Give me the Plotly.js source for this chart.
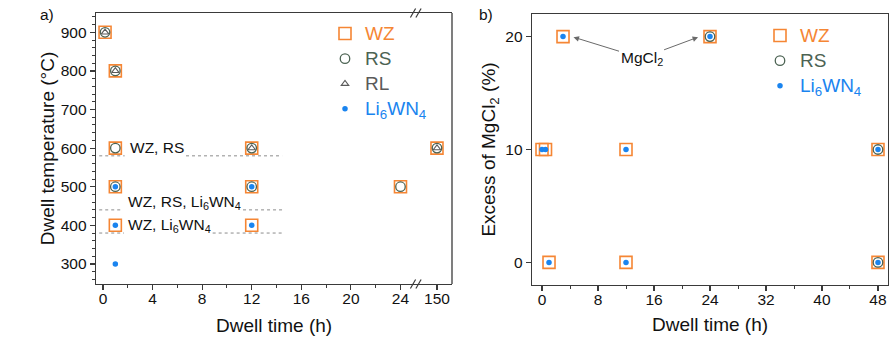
<!DOCTYPE html>
<html>
<head>
<meta charset="utf-8">
<script src="https://cdn.plot.ly/plotly-3.0.1.min.js"></script>
<style>
  html, body { margin: 0; padding: 0; background: #ffffff; }
  #chart { width: 896px; height: 362px; }
</style>
</head>
<body>
<div id="chart"></div>
<script>
// ---- a) dwell temperature vs dwell time ----
const wzTimeA = [0.17, 1, 1, 12, 150, 1, 12, 24, 1, 12];
const wzTempA = [900, 800, 600, 600, 600, 500, 500, 500, 400, 400];
const rsTimeA = [0.17, 1, 1, 12, 150, 1, 12, 24];
const rsTempA = [900, 800, 600, 600, 600, 500, 500, 500];
const rlTimeA = [0.17, 1, 12, 150];
const rlTempA = [900, 800, 600, 600];
const liTimeA = [1, 12, 1, 12, 1];
const liTempA = [500, 500, 400, 400, 300];

// ---- b) MgCl2 excess vs dwell time ----
const wzTimeB = [0, 0.5, 12, 48, 3, 24, 1, 12, 48];
const wzExcessB = [10, 10, 10, 10, 20, 20, 0, 0, 0];
const rsTimeB = [48, 24, 48];
const rsExcessB = [10, 20, 0];
const liTimeB = [0, 0.5, 12, 48, 3, 24, 1, 12, 48];
const liExcessB = [10, 10, 10, 10, 20, 20, 0, 0, 0];

// tick values / labels
const tempTicksA = [300, 400, 500, 600, 700, 800, 900];
const timeTicksA = [0, 4, 8, 12, 16, 20, 24];
const longTimeTicksA = [150];
const timeTicksB = [0, 8, 16, 24, 32, 40, 48];
const excessTicksB = [0, 10, 20];

// hours beyond this value sit on the segment after the axis break
const BREAK_AFTER = 100;

const W = 896, H = 362;
const PX = x => x / W;
const PY = y => 1 - y / H;

const FONT = 'Arial, "Liberation Sans", sans-serif';
const C_WZ = '#F58634';
const C_RS = '#4C6353';
const C_RL = '#5a5a5a';
const C_LI = '#1a84ef';
const AXIS = '#3a3a3a';

const styles = {
  WZ: {symbol: 'square-open', size: 12, color: C_WZ, width: 1.6},
  RS: {symbol: 'circle-open', size: 9.5, color: C_RS, width: 1.3},
  RL: {symbol: 'triangle-up-open', size: 6.5, color: C_RL, width: 1.1},
  LI: {symbol: 'circle', size: 5.5, color: C_LI, width: 0}
};
// legend rows are spaced by the legend font size; the label itself is drawn a bit larger
const LEG_TXT = 19;
function legName(color, label) {
  return '<span style="color:' + color + ';font-size:' + LEG_TXT + 'px">' + label + '</span>';
}
const names = {
  WZ: legName(C_WZ, 'WZ'),
  RS: legName(C_RS, 'RS'),
  RL: legName(C_RL, 'RL'),
  LI: legName(C_LI, 'Li<sub>6</sub>WN<sub>4</sub>')
};

function marker(key) {
  const s = styles[key];
  return {symbol: s.symbol, size: s.size, color: s.color,
          line: {color: s.color, width: s.width}};
}

function tracesA(key, xs, ys) {
  const near = {x: [], y: []}, far = {x: [], y: []};
  xs.forEach((t, i) => {
    const tgt = t > BREAK_AFTER ? far : near;
    tgt.x.push(t); tgt.y.push(ys[i]);
  });
  return [
    {type: 'scatter', mode: 'markers', x: near.x, y: near.y, xaxis: 'x', yaxis: 'y',
     name: names[key], legend: 'legend', showlegend: true, marker: marker(key),
     hoverinfo: 'x+y'},
    {type: 'scatter', mode: 'markers', x: far.x, y: far.y, xaxis: 'x2', yaxis: 'y',
     name: names[key], legend: 'legend', showlegend: false, marker: marker(key),
     hoverinfo: 'x+y'}
  ];
}

function traceB(key, xs, ys) {
  return {type: 'scatter', mode: 'markers', x: xs, y: ys, xaxis: 'x3', yaxis: 'y2',
          name: names[key], legend: 'legend2', showlegend: true, marker: marker(key),
          hoverinfo: 'x+y'};
}

const data = [].concat(
  tracesA('WZ', wzTimeA, wzTempA),
  tracesA('RS', rsTimeA, rsTempA),
  tracesA('RL', rlTimeA, rlTempA),
  tracesA('LI', liTimeA, liTempA),
  [traceB('WZ', wzTimeB, wzExcessB),
   traceB('RS', rsTimeB, rsExcessB),
   traceB('LI', liTimeB, liExcessB)]
);

const tickFont = {family: FONT, size: 15.5, color: '#111'};
const titleFont = {family: FONT, size: 19, color: '#111'};

function axisBase(extra) {
  return Object.assign({
    showline: true, linecolor: AXIS, linewidth: 1.3,
    ticks: 'outside', ticklen: 5, tickwidth: 1.2, tickcolor: AXIS,
    showgrid: false, zeroline: false, tickfont: tickFont, fixedrange: true
  }, extra);
}
const minorTicks = d => ({dtick: d, ticks: 'outside', ticklen: 3, tickwidth: 1, tickcolor: AXIS, showgrid: false});

// dotted separators between phase regions (panel a)
const dot = {color: '#8c8c8c', width: 1, dash: 'dot'};
function hseg(x0, x1, y) {
  return {type: 'line', xref: 'x', yref: 'y', x0: x0, x1: x1, y0: y, y1: y, line: dot};
}

// axis-break slashes
function slash(cx, cy) {
  return {type: 'line', xref: 'paper', yref: 'paper',
          x0: PX(cx - 2.6), y0: PY(cy + 4.5), x1: PX(cx + 2.6), y1: PY(cy - 4.5),
          line: {color: AXIS, width: 1.2}};
}

const shapes = [
  hseg(-0.3, 1.75, 580), hseg(6.7, 14.45, 580),
  hseg(-0.3, 1.6, 440), hseg(11.3, 14.45, 440),
  hseg(-0.3, 1.7, 380), hseg(8.85, 14.45, 380),
  // right edge of panel a
  {type: 'line', xref: 'paper', yref: 'paper', x0: PX(452), x1: PX(452),
   y0: PY(284), y1: PY(13), line: {color: AXIS, width: 1.3}},
  slash(413, 13), slash(418.5, 13),
  slash(413, 284), slash(418.5, 284)
];

const annFont = {family: FONT, size: 15.5, color: '#111'};
const mgLabel = 'MgCl<sub>2</sub>';
const annotations = [
  {text: 'a)', xref: 'paper', yref: 'paper', x: PX(47), y: PY(15), xanchor: 'center', yanchor: 'middle',
   showarrow: false, font: annFont},
  {text: 'b)', xref: 'paper', yref: 'paper', x: PX(486), y: PY(15), xanchor: 'center', yanchor: 'middle',
   showarrow: false, font: annFont},
  {text: 'Dwell time (h)', xref: 'paper', yref: 'paper', x: PX(274), y: PY(325),
   xanchor: 'center', yanchor: 'middle', showarrow: false, font: titleFont},
  {text: 'WZ, RS', xref: 'x', yref: 'y', x: 2.0, y: 601, xanchor: 'left', yanchor: 'middle',
   showarrow: false, font: annFont},
  {text: 'WZ, RS, Li<sub>6</sub>WN<sub>4</sub>', xref: 'x', yref: 'y', x: 1.85, y: 458,
   xanchor: 'left', yanchor: 'middle', showarrow: false, font: annFont},
  {text: 'WZ, Li<sub>6</sub>WN<sub>4</sub>', xref: 'x', yref: 'y', x: 1.85, y: 400,
   xanchor: 'left', yanchor: 'middle', showarrow: false, font: annFont},
  {text: mgLabel, xref: 'x3', yref: 'y2', x: 4.5, y: 19.95, ax: 68, ay: 21,
   showarrow: true, arrowhead: 2, arrowsize: 1.1, arrowwidth: 1, arrowcolor: '#6a6a6a',
   font: annFont},
  {text: mgLabel, xref: 'x3', yref: 'y2', x: 22.3, y: 19.95, ax: -56.5, ay: 21,
   showarrow: true, arrowhead: 2, arrowsize: 1.1, arrowwidth: 1, arrowcolor: '#6a6a6a',
   font: Object.assign({}, annFont, {color: 'rgba(0,0,0,0)'})}
];

const legendFont = {family: FONT, size: 17};
const layout = {
  width: W, height: H,
  margin: {l: 0, r: 0, t: 0, b: 0},
  paper_bgcolor: '#ffffff', plot_bgcolor: '#ffffff',
  font: {family: FONT, color: '#111'},
  showlegend: true,
  hovermode: false,
  xaxis: axisBase({domain: [PX(96), PX(415)], range: [-0.56, 25.17], anchor: 'y',
    tickvals: timeTicksA, minor: minorTicks(2), mirror: true, ticklabelstandoff: -5}),
  xaxis2: axisBase({domain: [PX(415), PX(452)], range: [148.23, 151.21], anchor: 'y',
    tickvals: longTimeTicksA, mirror: true, ticklabelstandoff: -5}),
  yaxis: axisBase({domain: [PY(284), PY(13)], range: [248, 950], anchor: 'x',
    tickvals: tempTicksA, minor: minorTicks(20),
    title: {text: 'Dwell temperature (°C)', font: titleFont, standoff: 1}}),
  xaxis3: axisBase({domain: [PX(532), PX(888)], range: [-1.43, 49.43], anchor: 'y2',
    tickvals: timeTicksB, minor: minorTicks(4), mirror: true, ticklabelstandoff: -5,
    title: {text: 'Dwell time (h)', font: titleFont, standoff: 10}}),
  yaxis2: axisBase({domain: [PY(285), PY(14)], range: [-2, 22], anchor: 'x3',
    tickvals: excessTicksB, mirror: true,
    title: {text: 'Excess of MgCl<sub>2</sub> (%)', font: titleFont, standoff: 4}}),
  legend: {x: PX(325), y: PY(16), xanchor: 'left', yanchor: 'top',
    bgcolor: 'rgba(0,0,0,0)', borderwidth: 0, font: legendFont, itemsizing: 'trace',
    tracegroupgap: 0},
  legend2: {x: PX(760), y: PY(18), xanchor: 'left', yanchor: 'top',
    bgcolor: 'rgba(0,0,0,0)', borderwidth: 0, font: legendFont, itemsizing: 'trace',
    tracegroupgap: 0},
  shapes: shapes,
  annotations: annotations
};

Plotly.newPlot('chart', data, layout, {displayModeBar: false, staticPlot: true});
</script>
</body>
</html>
